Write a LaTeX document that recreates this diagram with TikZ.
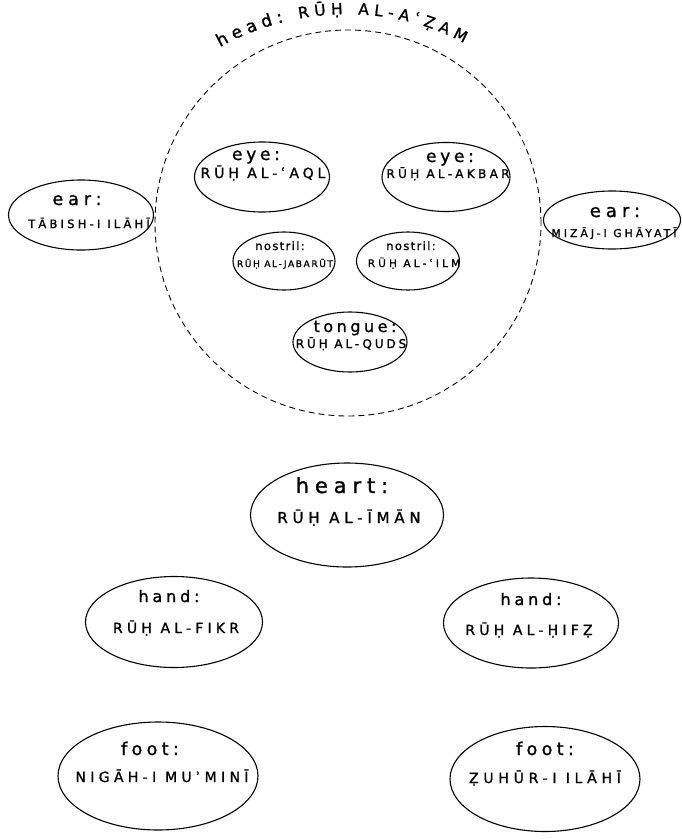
\documentclass[tikz,border=0pt]{standalone}
\usepackage{fontspec}
\newfontfamily\hw[FakeBold=1.2]{DejaVu Sans}
\usetikzlibrary{shapes.geometric,decorations.text}
\newcommand\hwfont[2]{\hw\fontsize{#1}{#1}\selectfont\addfontfeature{LetterSpace=#2}}
\begin{document}
\begin{tikzpicture}[x=1pt,y=-1pt,
  organ/.style={draw, ellipse, line width=1.1pt, inner sep=0pt},
  headring/.style={draw, ellipse, line width=0.9pt, dash pattern=on 6pt off 4pt, inner sep=0pt},
  lbl/.style={anchor=base, inner sep=0pt}]
\path[fill=white, use as bounding box] (0,0) rectangle (682,839);

% head
\node[headring, minimum width=386pt, minimum height=386pt] (head) at (348,223) {};
\coordinate (hs) at (220,47);
\coordinate (he) at (464,43);
\path[decorate, decoration={text along path, text align=fit to path,
  text={|\hwfont{17}{0}|head: |\hwfont{15.5}{0}|RŪḤ AL-AʿẒAM}}]
  (hs) .. controls (298,4) and (392,4) .. (he);

% eyes
\node[organ, minimum width=135pt, minimum height=70pt] (eyeL) at (262,177) {};
\node[lbl, font=\hwfont{17}{22}] (eyeLw) at (256,160) {eye:};
\node[lbl, font=\hwfont{14}{28}] (eyeLn) at (263,178) {RŪḤ AL-ʿAQL};

\node[organ, minimum width=128pt, minimum height=69pt] (eyeR) at (446,177) {};
\node[lbl, font=\hwfont{17}{22}] (eyeRw) at (450,162) {eye:};
\node[lbl, font=\hwfont{12}{28}] (eyeRn) at (448,178) {RŪḤ AL-AKBAR};

% ears
\node[organ, minimum width=145pt, minimum height=70pt] (earL) at (81,215) {};
\node[lbl, font=\hwfont{17.5}{28}] (earLw) at (77,205) {ear:};
\node[lbl, font=\hwfont{11.5}{28}] (earLn) at (89,228) {TĀBISH-I ILĀHĪ};

\node[organ, minimum width=137pt, minimum height=58pt] (earR) at (612,220) {};
\node[lbl, font=\hwfont{18}{28}] (earRw) at (615,217) {ear:};
\node[lbl, font=\hwfont{10.8}{28}] (earRn) at (614,237) {MIZĀJ-I GHĀYATĪ};

% nostrils
\node[organ, minimum width=102pt, minimum height=58pt] (nosL) at (284,261) {};
\node[lbl, font=\hwfont{11.5}{12}] (nosLw) at (280,250) {nostril:};
\node[lbl, font=\hwfont{9}{18}] (nosLn) at (285,267) {RŪḤ AL-JABARŪT};

\node[organ, minimum width=103pt, minimum height=58pt] (nosR) at (408,261) {};
\node[lbl, font=\hwfont{11.5}{12}] (nosRw) at (411,250) {nostril:};
\node[lbl, font=\hwfont{10.5}{30}] (nosRn) at (414,267) {RŪḤ AL-ʿILM};

% tongue
\node[organ, minimum width=114pt, minimum height=60pt] (tongue) at (350,342) {};
\node[lbl, font=\hwfont{16}{22}] (tonguew) at (355,332) {tongue:};
\node[lbl, font=\hwfont{12}{24}] (tonguen) at (351,348) {RŪḤ AL-QUDS};

% heart
\node[organ, minimum width=193pt, minimum height=104pt] (heart) at (347,515) {};
\node[lbl, font=\hwfont{21}{28}] (heartw) at (342,493) {heart:};
\node[lbl, font=\hwfont{15}{32}] (heartn) at (349,523) {RŪḤ AL-ĪMĀN};

% hands
\node[organ, minimum width=177pt, minimum height=91pt] (handL) at (174,622) {};
\node[lbl, font=\hwfont{16}{24}] (handLw) at (169,602) {hand:};
\node[lbl, font=\hwfont{14}{30}] (handLn) at (176,633) {RŪḤ AL-FIKR};

\node[organ, minimum width=175pt, minimum height=90pt] (handR) at (531,623) {};
\node[lbl, font=\hwfont{16}{24}] (handRw) at (531,605) {hand:};
\node[lbl, font=\hwfont{14}{30}] (handRn) at (529,635) {RŪḤ AL-ḤIFẒ};

% feet
\node[organ, minimum width=200pt, minimum height=108pt] (footL) at (158,776) {};
\node[lbl, font=\hwfont{17.5}{25}] (footLw) at (150,755) {foot:};
\node[lbl, font=\hwfont{14}{31}] (footLn) at (162,782) {NIGĀH-I MUʾMINĪ};

\node[organ, minimum width=190pt, minimum height=105pt] (footR) at (545,779) {};
\node[lbl, font=\hwfont{17.5}{25}] (footRw) at (545,755) {foot:};
\node[lbl, font=\hwfont{14}{34}] (footRn) at (545,783) {ẒUHŪR-I ILĀHĪ};
\end{tikzpicture}
\end{document}
